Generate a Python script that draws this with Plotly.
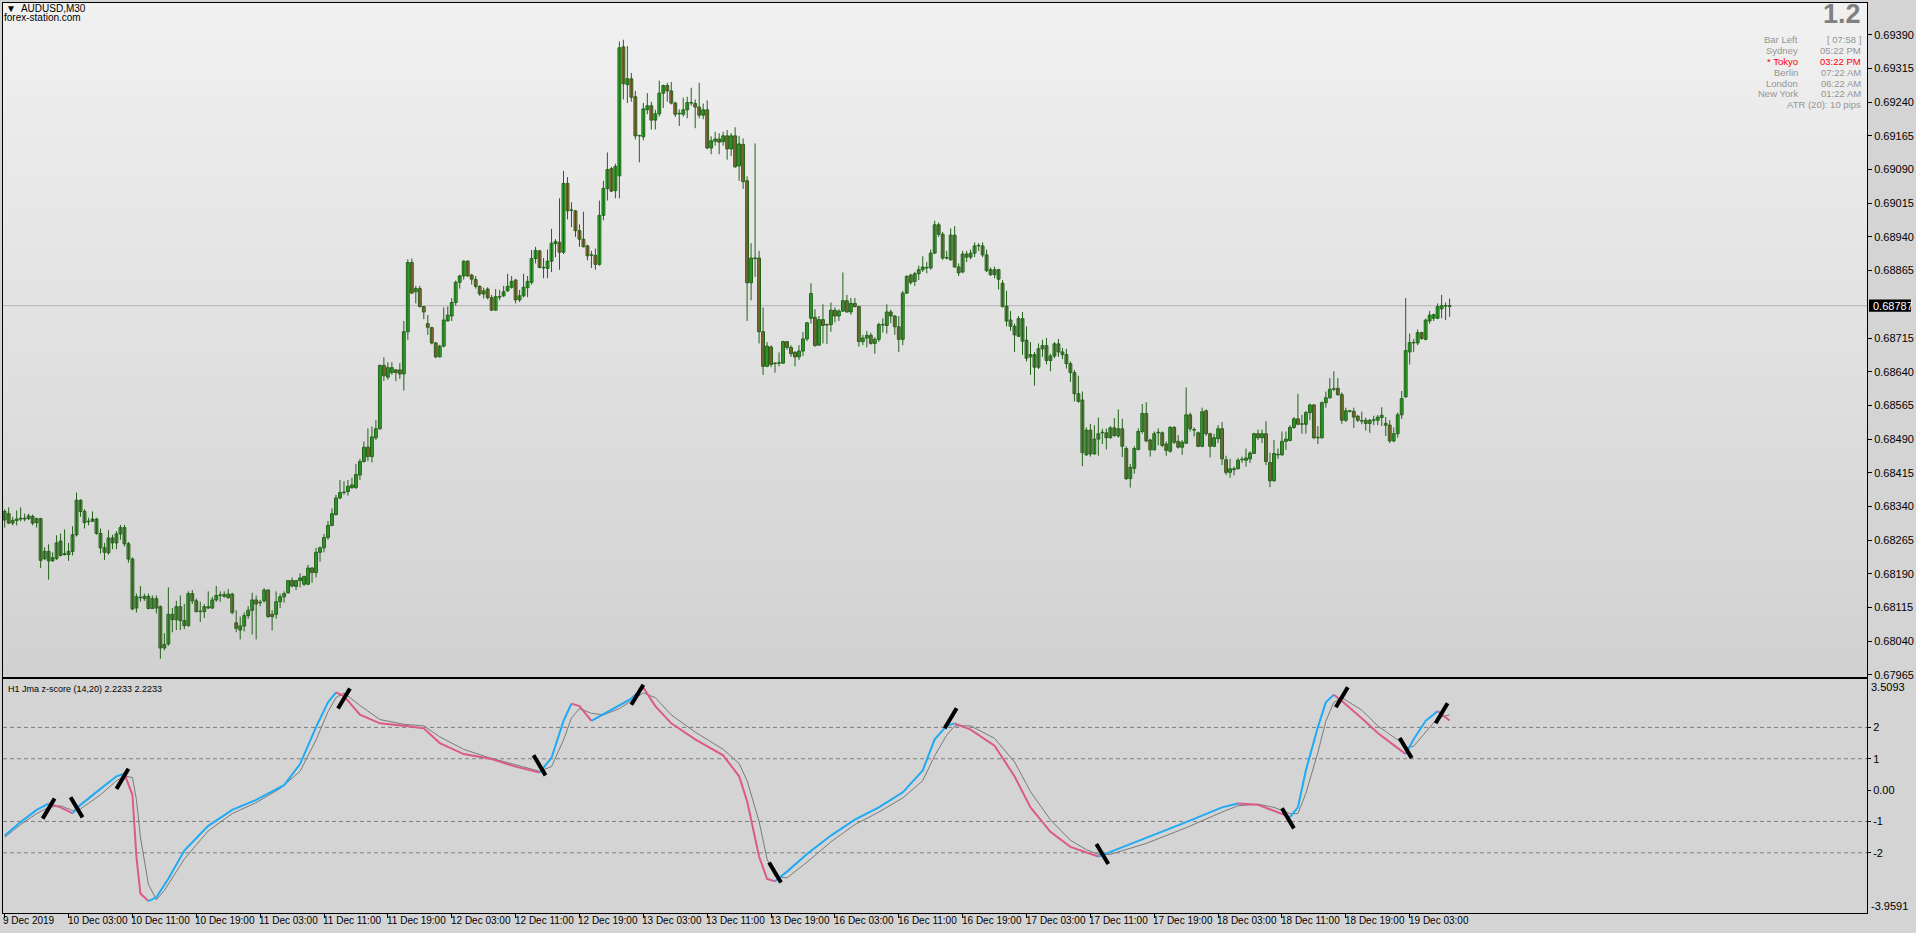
import plotly.graph_objects as go

# ---------------- data (AUDUSD M30) ----------------
opens = [
0.68310,0.68324,0.68303,0.68309,0.68312,0.68314,0.68313,0.68318,0.68304,0.68313,
0.68224,0.68240,0.68219,0.68224,0.68263,0.68233,0.68233,0.68240,0.68277,0.68354,
0.68329,0.68306,0.68307,0.68312,0.68280,0.68248,0.68237,0.68270,0.68259,0.68279,
0.68293,0.68257,0.68223,0.68114,0.68137,0.68135,0.68140,0.68113,0.68135,0.68117,
0.68025,0.68034,0.68100,0.68088,0.68117,0.68086,0.68075,0.68146,0.68130,0.68106,
0.68106,0.68114,0.68114,0.68132,0.68142,0.68140,0.68137,0.68145,0.68081,0.68065,
0.68074,0.68097,0.68109,0.68132,0.68126,0.68130,0.68154,0.68100,0.68100,0.68128,
0.68139,0.68148,0.68175,0.68162,0.68175,0.68167,0.68167,0.68203,0.68193,0.68238,
0.68248,0.68271,0.68298,0.68322,0.68359,0.68371,0.68373,0.68382,0.68382,0.68410,
0.68440,0.68472,0.68451,0.68493,0.68513,0.68654,0.68628,0.68638,0.68644,0.68644,
0.68635,0.68729,0.68883,0.68818,0.68825,0.68785,0.68747,0.68738,0.68704,0.68673,
0.68697,0.68753,0.68764,0.68794,0.68839,0.68853,0.68886,0.68855,0.68845,0.68830,
0.68813,0.68824,0.68805,0.68777,0.68806,0.68809,0.68820,0.68828,0.68844,0.68800,
0.68809,0.68827,0.68839,0.68892,0.68909,0.68871,0.68870,0.68886,0.68925,0.68928,
0.68906,0.69059,0.68999,0.68998,0.68954,0.68935,0.68920,0.68899,0.68899,0.68879,
0.68988,0.69048,0.69092,0.69043,0.69076,0.69363,0.69279,0.69292,0.69252,0.69165,
0.69163,0.69223,0.69232,0.69200,0.69214,0.69260,0.69277,0.69265,0.69238,0.69214,
0.69213,0.69223,0.69238,0.69237,0.69229,0.69211,0.69223,0.69138,0.69153,0.69158,
0.69152,0.69165,0.69136,0.69165,0.69098,0.69146,0.69065,0.68838,0.68893,0.68893,
0.68729,0.68652,0.68695,0.68659,0.68659,0.68659,0.68707,0.68694,0.68683,0.68673,
0.68686,0.68713,0.68759,0.68761,0.68699,0.68756,0.68745,0.68745,0.68777,0.68764,
0.68775,0.68798,0.68773,0.68792,0.68785,0.68707,0.68715,0.68721,0.68703,0.68712,
0.68744,0.68743,0.68773,0.68764,0.68740,0.68712,0.68815,0.68855,0.68841,0.68858,
0.68867,0.68871,0.68871,0.68904,0.68967,0.68946,0.68893,0.68889,0.68944,0.68873,
0.68862,0.68902,0.68895,0.68904,0.68920,0.68920,0.68900,0.68867,0.68867,0.68867,
0.68837,0.68786,0.68755,0.68741,0.68719,0.68758,0.68710,0.68673,0.68678,0.68650,
0.68691,0.68698,0.68665,0.68675,0.68702,0.68684,0.68678,0.68658,0.68638,0.68591,
0.68577,0.68455,0.68510,0.68457,0.68490,0.68504,0.68504,0.68493,0.68515,0.68497,
0.68513,0.68469,0.68402,0.68425,0.68467,0.68507,0.68547,0.68488,0.68466,0.68504,
0.68504,0.68479,0.68463,0.68516,0.68485,0.68472,0.68481,0.68544,0.68510,0.68504,
0.68474,0.68553,0.68502,0.68474,0.68491,0.68513,0.68444,0.68416,0.68422,0.68424,
0.68444,0.68443,0.68446,0.68458,0.68502,0.68493,0.68502,0.68438,0.68397,0.68455,
0.68455,0.68485,0.68487,0.68516,0.68535,0.68523,0.68523,0.68549,0.68566,0.68493,
0.68493,0.68571,0.68582,0.68601,0.68603,0.68589,0.68532,0.68552,0.68552,0.68541,
0.68530,0.68532,0.68525,0.68532,0.68532,0.68538,0.68525,0.68521,0.68486,0.68502,
0.68544,0.68584,0.68684,0.68704,0.68704,0.68727,0.68712,0.68753,0.68759,0.68759,
0.68780,0.68786,0.68785]

highs = [
0.68334,0.68338,0.68317,0.68331,0.68338,0.68324,0.68324,0.68322,0.68315,0.68315,
0.68249,0.68256,0.68238,0.68276,0.68280,0.68289,0.68259,0.68296,0.68371,0.68356,
0.68334,0.68315,0.68329,0.68315,0.68291,0.68259,0.68287,0.68277,0.68285,0.68299,
0.68299,0.68261,0.68227,0.68146,0.68163,0.68146,0.68146,0.68142,0.68142,0.68120,
0.68058,0.68160,0.68114,0.68130,0.68142,0.68123,0.68151,0.68154,0.68135,0.68128,
0.68123,0.68151,0.68139,0.68163,0.68151,0.68151,0.68156,0.68148,0.68109,0.68095,
0.68104,0.68118,0.68148,0.68142,0.68132,0.68158,0.68156,0.68109,0.68151,0.68146,
0.68151,0.68176,0.68182,0.68176,0.68191,0.68186,0.68210,0.68205,0.68248,0.68251,
0.68279,0.68308,0.68336,0.68366,0.68399,0.68396,0.68399,0.68404,0.68435,0.68446,
0.68485,0.68514,0.68518,0.68532,0.68656,0.68672,0.68661,0.68661,0.68646,0.68659,
0.68753,0.68890,0.68892,0.68831,0.68831,0.68786,0.68766,0.68740,0.68706,0.68700,
0.68783,0.68785,0.68804,0.68843,0.68856,0.68888,0.68888,0.68858,0.68853,0.68832,
0.68827,0.68828,0.68811,0.68824,0.68822,0.68831,0.68858,0.68853,0.68846,0.68822,
0.68858,0.68853,0.68911,0.68918,0.68911,0.68893,0.68912,0.68958,0.68935,0.69026,
0.69087,0.69073,0.69017,0.69000,0.68968,0.68996,0.68923,0.68909,0.68914,0.69021,
0.69065,0.69128,0.69096,0.69103,0.69375,0.69379,0.69365,0.69305,0.69265,0.69167,
0.69238,0.69260,0.69241,0.69223,0.69288,0.69279,0.69283,0.69285,0.69241,0.69224,
0.69250,0.69252,0.69272,0.69246,0.69283,0.69237,0.69244,0.69164,0.69174,0.69171,
0.69174,0.69178,0.69171,0.69184,0.69165,0.69159,0.69075,0.68926,0.69148,0.68909,
0.68783,0.68706,0.68699,0.68661,0.68683,0.68709,0.68708,0.68699,0.68686,0.68699,
0.68728,0.68750,0.68837,0.68779,0.68764,0.68790,0.68747,0.68794,0.68783,0.68779,
0.68861,0.68811,0.68804,0.68804,0.68786,0.68722,0.68731,0.68727,0.68717,0.68749,
0.68759,0.68790,0.68778,0.68766,0.68764,0.68820,0.68855,0.68858,0.68862,0.68876,
0.68897,0.68884,0.68912,0.68976,0.68972,0.68951,0.68909,0.68959,0.68964,0.68881,
0.68909,0.68909,0.68912,0.68928,0.68926,0.68928,0.68912,0.68872,0.68874,0.68869,
0.68844,0.68820,0.68775,0.68747,0.68764,0.68773,0.68741,0.68706,0.68684,0.68703,
0.68711,0.68715,0.68680,0.68706,0.68713,0.68693,0.68691,0.68663,0.68644,0.68631,
0.68596,0.68516,0.68524,0.68521,0.68538,0.68513,0.68513,0.68519,0.68537,0.68556,
0.68535,0.68474,0.68435,0.68474,0.68514,0.68568,0.68572,0.68491,0.68507,0.68514,
0.68507,0.68485,0.68519,0.68519,0.68499,0.68488,0.68605,0.68549,0.68516,0.68507,
0.68560,0.68556,0.68504,0.68502,0.68521,0.68528,0.68453,0.68446,0.68429,0.68448,
0.68451,0.68469,0.68463,0.68504,0.68511,0.68511,0.68530,0.68460,0.68488,0.68469,
0.68507,0.68507,0.68521,0.68539,0.68591,0.68544,0.68553,0.68569,0.68568,0.68519,
0.68574,0.68596,0.68626,0.68641,0.68626,0.68594,0.68560,0.68554,0.68560,0.68544,
0.68551,0.68538,0.68535,0.68542,0.68544,0.68561,0.68539,0.68532,0.68516,0.68549,
0.68597,0.68804,0.68725,0.68713,0.68734,0.68729,0.68758,0.68775,0.68769,0.68792,
0.68811,0.68794,0.68803]

lows = [
0.68293,0.68301,0.68298,0.68298,0.68307,0.68307,0.68310,0.68298,0.68293,0.68203,
0.68221,0.68177,0.68217,0.68221,0.68229,0.68231,0.68219,0.68231,0.68273,0.68317,
0.68291,0.68298,0.68306,0.68277,0.68235,0.68221,0.68233,0.68245,0.68245,0.68266,
0.68251,0.68215,0.68109,0.68104,0.68128,0.68130,0.68111,0.68112,0.68102,0.68001,
0.68020,0.68030,0.68060,0.68065,0.68065,0.68067,0.68072,0.68123,0.68104,0.68083,
0.68092,0.68112,0.68112,0.68128,0.68128,0.68137,0.68135,0.68100,0.68060,0.68044,
0.68062,0.68090,0.68055,0.68044,0.68118,0.68126,0.68092,0.68064,0.68090,0.68114,
0.68126,0.68146,0.68160,0.68154,0.68160,0.68163,0.68165,0.68170,0.68182,0.68217,
0.68238,0.68266,0.68296,0.68320,0.68356,0.68366,0.68364,0.68379,0.68379,0.68399,
0.68438,0.68441,0.68438,0.68488,0.68511,0.68619,0.68622,0.68633,0.68619,0.68624,
0.68598,0.68711,0.68813,0.68792,0.68783,0.68757,0.68722,0.68701,0.68670,0.68672,
0.68694,0.68752,0.68753,0.68787,0.68825,0.68845,0.68852,0.68834,0.68825,0.68809,
0.68803,0.68801,0.68775,0.68776,0.68799,0.68806,0.68818,0.68825,0.68792,0.68795,
0.68805,0.68806,0.68834,0.68881,0.68870,0.68848,0.68848,0.68862,0.68895,0.68867,
0.68902,0.68979,0.68962,0.68940,0.68918,0.68917,0.68888,0.68871,0.68867,0.68876,
0.68977,0.69021,0.69040,0.69026,0.69026,0.69246,0.69238,0.69241,0.69157,0.69106,
0.69155,0.69213,0.69179,0.69179,0.69208,0.69227,0.69241,0.69235,0.69207,0.69187,
0.69208,0.69204,0.69232,0.69182,0.69204,0.69202,0.69135,0.69124,0.69143,0.69124,
0.69143,0.69112,0.69120,0.69094,0.69065,0.69047,0.68753,0.68799,0.68851,0.68703,
0.68633,0.68650,0.68650,0.68638,0.68652,0.68658,0.68689,0.68673,0.68652,0.68666,
0.68675,0.68708,0.68747,0.68696,0.68699,0.68703,0.68702,0.68729,0.68750,0.68753,
0.68773,0.68772,0.68767,0.68783,0.68696,0.68699,0.68694,0.68700,0.68680,0.68706,
0.68727,0.68725,0.68748,0.68722,0.68684,0.68699,0.68813,0.68834,0.68831,0.68844,
0.68862,0.68859,0.68867,0.68902,0.68940,0.68889,0.68890,0.68888,0.68872,0.68853,
0.68859,0.68884,0.68890,0.68895,0.68909,0.68895,0.68862,0.68853,0.68848,0.68823,
0.68783,0.68741,0.68731,0.68684,0.68717,0.68678,0.68663,0.68633,0.68609,0.68646,
0.68673,0.68656,0.68641,0.68670,0.68673,0.68668,0.68647,0.68617,0.68574,0.68571,
0.68430,0.68453,0.68451,0.68455,0.68453,0.68479,0.68467,0.68491,0.68495,0.68493,
0.68450,0.68399,0.68382,0.68413,0.68465,0.68502,0.68483,0.68451,0.68465,0.68476,
0.68472,0.68453,0.68460,0.68479,0.68469,0.68455,0.68479,0.68507,0.68496,0.68472,
0.68472,0.68497,0.68449,0.68472,0.68481,0.68432,0.68410,0.68404,0.68409,0.68423,
0.68437,0.68429,0.68437,0.68457,0.68488,0.68481,0.68432,0.68383,0.68396,0.68446,
0.68453,0.68466,0.68485,0.68513,0.68521,0.68502,0.68502,0.68532,0.68490,0.68479,
0.68491,0.68560,0.68580,0.68597,0.68586,0.68524,0.68528,0.68549,0.68515,0.68528,
0.68523,0.68509,0.68504,0.68521,0.68521,0.68519,0.68497,0.68481,0.68483,0.68493,
0.68535,0.68582,0.68656,0.68684,0.68699,0.68711,0.68710,0.68747,0.68753,0.68757,
0.68759,0.68755,0.68762]

closes = [
0.68329,0.68303,0.68309,0.68312,0.68314,0.68312,0.68319,0.68303,0.68313,0.68220,
0.68240,0.68219,0.68226,0.68259,0.68231,0.68235,0.68240,0.68277,0.68354,0.68329,
0.68304,0.68306,0.68312,0.68280,0.68248,0.68238,0.68270,0.68259,0.68279,0.68293,
0.68257,0.68223,0.68112,0.68139,0.68138,0.68140,0.68113,0.68135,0.68114,0.68025,
0.68033,0.68100,0.68088,0.68117,0.68086,0.68075,0.68146,0.68130,0.68106,0.68107,
0.68117,0.68117,0.68132,0.68142,0.68143,0.68144,0.68145,0.68104,0.68069,0.68074,
0.68097,0.68109,0.68132,0.68123,0.68127,0.68154,0.68095,0.68095,0.68128,0.68139,
0.68146,0.68175,0.68163,0.68175,0.68181,0.68184,0.68203,0.68193,0.68238,0.68248,
0.68271,0.68298,0.68324,0.68359,0.68371,0.68372,0.68385,0.68388,0.68411,0.68440,
0.68472,0.68451,0.68495,0.68513,0.68654,0.68631,0.68649,0.68649,0.68638,0.68635,
0.68729,0.68883,0.68815,0.68825,0.68785,0.68773,0.68739,0.68704,0.68673,0.68697,
0.68755,0.68766,0.68794,0.68839,0.68853,0.68886,0.68853,0.68846,0.68830,0.68813,
0.68820,0.68805,0.68777,0.68807,0.68807,0.68818,0.68830,0.68841,0.68800,0.68809,
0.68828,0.68841,0.68892,0.68910,0.68872,0.68872,0.68886,0.68926,0.68930,0.68906,
0.69059,0.68998,0.69000,0.68954,0.68935,0.68918,0.68898,0.68900,0.68879,0.68988,
0.69048,0.69090,0.69042,0.69097,0.69361,0.69281,0.69292,0.69251,0.69165,0.69166,
0.69225,0.69232,0.69200,0.69214,0.69260,0.69277,0.69265,0.69238,0.69213,0.69215,
0.69223,0.69239,0.69239,0.69229,0.69211,0.69223,0.69138,0.69154,0.69158,0.69151,
0.69165,0.69136,0.69165,0.69096,0.69147,0.69063,0.68838,0.68893,0.68892,0.68729,
0.68652,0.68697,0.68656,0.68658,0.68660,0.68707,0.68694,0.68680,0.68673,0.68686,
0.68713,0.68749,0.68814,0.68698,0.68756,0.68743,0.68744,0.68777,0.68764,0.68775,
0.68798,0.68773,0.68792,0.68785,0.68707,0.68715,0.68721,0.68703,0.68712,0.68745,
0.68745,0.68773,0.68764,0.68740,0.68712,0.68815,0.68852,0.68839,0.68858,0.68867,
0.68873,0.68872,0.68904,0.68967,0.68946,0.68893,0.68894,0.68944,0.68873,0.68860,
0.68902,0.68895,0.68904,0.68920,0.68921,0.68900,0.68865,0.68856,0.68856,0.68846,
0.68785,0.68753,0.68741,0.68722,0.68758,0.68708,0.68670,0.68678,0.68650,0.68691,
0.68698,0.68665,0.68675,0.68702,0.68684,0.68678,0.68658,0.68638,0.68591,0.68574,
0.68460,0.68510,0.68457,0.68490,0.68502,0.68505,0.68493,0.68515,0.68498,0.68513,
0.68474,0.68402,0.68427,0.68469,0.68507,0.68547,0.68486,0.68466,0.68502,0.68505,
0.68476,0.68465,0.68516,0.68483,0.68472,0.68483,0.68544,0.68513,0.68511,0.68474,
0.68551,0.68502,0.68474,0.68493,0.68513,0.68446,0.68416,0.68424,0.68424,0.68443,
0.68445,0.68448,0.68459,0.68502,0.68493,0.68502,0.68440,0.68397,0.68458,0.68456,
0.68485,0.68490,0.68516,0.68535,0.68523,0.68524,0.68549,0.68566,0.68493,0.68494,
0.68571,0.68582,0.68601,0.68602,0.68589,0.68532,0.68553,0.68553,0.68539,0.68532,
0.68531,0.68525,0.68532,0.68533,0.68539,0.68543,0.68521,0.68486,0.68502,0.68544,
0.68580,0.68687,0.68705,0.68705,0.68727,0.68714,0.68755,0.68766,0.68767,0.68785,
0.68787,0.68786,0.68787]

# time-axis labels (bar index of each label)
tick_bars = [0, 16, 32, 48, 64, 80, 96, 112, 128, 144, 160, 176, 192, 208,
             224, 240, 256, 272, 288, 304, 320, 336, 352]
tick_labels = ["9 Dec 2019", "10 Dec 03:00", "10 Dec 11:00", "10 Dec 19:00",
               "11 Dec 03:00", "11 Dec 11:00", "11 Dec 19:00", "12 Dec 03:00",
               "12 Dec 11:00", "12 Dec 19:00", "13 Dec 03:00", "13 Dec 11:00",
               "13 Dec 19:00", "16 Dec 03:00", "16 Dec 11:00", "16 Dec 19:00",
               "17 Dec 03:00", "17 Dec 11:00", "17 Dec 19:00", "18 Dec 03:00",
               "18 Dec 11:00", "18 Dec 19:00", "19 Dec 03:00"]

price_ticks = [0.67965, 0.68040, 0.68115, 0.68190, 0.68265, 0.68340, 0.68415,
               0.68490, 0.68565, 0.68640, 0.68715, 0.68865, 0.68940, 0.69015,
               0.69090, 0.69165, 0.69240, 0.69315, 0.69390]
last_price = 0.68787

# Jma z-score indicator (main line and lagging signal line)
z_bar = [0,4,8,11,14,17,19,24,28,30, 32,33,34,36,38,41,45,51,57,63,
         70,74,78,81,83,85,89,94,100,105, 109,115,122,128,134,137,140,142,144,147,
         151,154,157,160,163,167,173,180,184,186, 189,191,193,196,201,207,213,219,225,230,
         233,236,238,242,248,253,257,262,267,271, 274,277,286,296,305,309,314,318,322,324,
         326,329,331,333,335,340,344,349,351,353, 356,359,362]
z_val = [-1.45,-1.02,-0.63,-0.43,-0.55,-0.74,-0.47,0.04,0.44,0.52,
         -0.15,-2.12,-3.3,-3.54,-3.42,-2.83,-1.93,-1.14,-0.63,-0.31,
         0.16,0.83,2.01,2.8,3.12,3.0,2.41,2.13,2.05,1.97,
         1.5,1.15,0.99,0.75,0.56,1.03,2.21,2.76,2.68,2.21,
         2.49,2.72,2.92,3.27,2.68,2.13,1.62,1.11,0.44,-0.35,
         -2.12,-2.83,-2.91,-2.6,-2.04,-1.45,-0.94,-0.55,-0.07,0.63,
         1.62,2.05,2.13,1.93,1.42,0.44,-0.55,-1.33,-1.81,-2.0,
         -2.12,-1.97,-1.53,-1.02,-0.55,-0.43,-0.47,-0.66,-0.86,-0.55,
         0.63,2.01,2.8,3.04,2.84,2.29,1.82,1.34,1.15,1.62,
         2.21,2.52,2.22]
sig_bar = [0,4,8,11,14,17,19,24,28,30, 32,33,34,36,38,40,45,51,57,63,
           69,74,78,81,83,85,89,94,100,105, 109,115,121,127,134,137,140,142,144,147,
           150,154,157,160,163,167,173,180,184,186, 189,191,193,196,201,207,213,219,225,230,
           233,236,238,242,248,253,257,262,267,271, 274,277,286,296,305,309,314,318,322,324,
           326,329,331,333,335,340,344,349,351,353, 356,359,362]
sig_val = [-1.5,-1.1,-0.75,-0.55,-0.5,-0.65,-0.6,-0.15,0.3,0.45,
           0.4,-0.3,-1.5,-3.0,-3.5,-3.2,-2.2,-1.3,-0.75,-0.4,
           0.05,0.6,1.6,2.5,2.95,3.1,2.7,2.25,2.1,2.05,
           1.7,1.3,1.05,0.85,0.6,0.75,1.6,2.3,2.6,2.45,
           2.4,2.6,2.85,3.1,2.95,2.4,1.85,1.3,0.85,0.3,
           -1.0,-2.2,-2.75,-2.8,-2.3,-1.65,-1.1,-0.7,-0.25,0.3,
           1.1,1.75,2.05,2.05,1.65,0.9,-0.05,-0.95,-1.6,-1.9,
           -2.05,-2.05,-1.7,-1.2,-0.7,-0.5,-0.45,-0.55,-0.75,-0.75,
           -0.1,1.2,2.2,2.8,2.95,2.55,2.05,1.6,1.35,1.4,
           1.85,2.3,2.4]
# turning-point marks: bar, value, direction (+1 up-slash, -1 down-slash)
mk_bar = [11, 18, 29.5, 85, 134, 158.5, 193, 237, 275, 321.5, 335, 351, 360]
mk_val = [-0.59, -0.55, 0.36, 2.92, 0.79, 3.04, -2.63, 2.29, -2.04, -0.9, 2.96, 1.34, 2.45]
mk_dir = [1, -1, 1, 1, -1, 1, -1, 1, -1, -1, 1, -1, 1]
levels = [2, 1, -1, -2]
ind_max, ind_min = 3.5093, -3.9591

# ---------------- layout geometry ----------------
W, H = 1916, 933
ML, MR, MT, MB = 2, 46, 2, 20
PH = H - MT - MB
def py(pix):          # pixel row -> paper fraction
    return (H - MB - pix) / PH
def px(pix):
    return (pix - ML) / (W - ML - MR)

XR = [-0.425, 466.575]
main_dom = [py(677), 1.0]
ind_dom = [0.0, py(679)]
PR = [0.679599, 0.694607]
IR = [-3.92, 3.536]

BLUE = "#1EAAF5"
PINK = "#DC5A88"
OUTLINE = "#24621A"
NARROW = "Liberation Sans Narrow, Arial Narrow, Liberation Sans, Arial, sans-serif"
SANS = "Liberation Sans, Arial, sans-serif"

fig = go.Figure()

# candle wicks
wx, wy = [], []
for i, (h, l) in enumerate(zip(highs, lows)):
    wx += [i, i, None]
    wy += [l, h, None]
fig.add_trace(go.Scatter(x=wx, y=wy, mode="lines", line=dict(color=OUTLINE, width=1),
                         hoverinfo="skip", showlegend=False, xaxis="x", yaxis="y"))
# candle bodies
MINH = 0.000012
for up, fill in ((True, "#3CC83C"), (False, "#C8694B")):
    idx = [i for i in range(len(closes)) if (closes[i] >= opens[i]) == up]
    fig.add_trace(go.Bar(
        x=idx,
        base=[min(opens[i], closes[i]) for i in idx],
        y=[max(abs(closes[i] - opens[i]), MINH) for i in idx],
        width=0.72, marker=dict(color=fill, line=dict(color=OUTLINE, width=1)),
        hoverinfo="skip", showlegend=False, xaxis="x", yaxis="y"))

# signal line (gray)
fig.add_trace(go.Scatter(x=sig_bar, y=sig_val, mode="lines", xaxis="x2", yaxis="y2",
                         line=dict(color="#7A7A7A", width=1), hoverinfo="skip", showlegend=False))

# main line coloured by direction
runs = []
for i in range(len(z_bar) - 1):
    col = BLUE if z_val[i + 1] >= z_val[i] else PINK
    if runs and runs[-1][0] == col:
        runs[-1][1].append(z_bar[i + 1]); runs[-1][2].append(z_val[i + 1])
    else:
        runs.append([col, [z_bar[i], z_bar[i + 1]], [z_val[i], z_val[i + 1]]])
for col, xs, ys in runs:
    fig.add_trace(go.Scatter(x=xs, y=ys, mode="lines", xaxis="x2", yaxis="y2",
                             line=dict(color=col, width=2), hoverinfo="skip", showlegend=False))

# turning-point marks
mx, my = [], []
for b, v, d in zip(mk_bar, mk_val, mk_dir):
    mx += [b - 1.5, b + 1.5, None]
    my += [v - 0.32 * d, v + 0.32 * d, None]
fig.add_trace(go.Scatter(x=mx, y=my, mode="lines", xaxis="x2", yaxis="y2",
                         line=dict(color="black", width=4), hoverinfo="skip", showlegend=False))

shapes = []
N = 60
for k in range(N):
    t = (k + 0.5) / N
    c = int(round(241 - (241 - 209) * t))
    shapes.append(dict(type="rect", xref="x domain", yref="y domain", x0=0, x1=1,
                       y0=1 - (k + 1) / N, y1=1 - k / N + 0.001,
                       fillcolor=f"rgb({c},{c},{c})", line=dict(width=0), layer="below"))
shapes.append(dict(type="line", xref="x domain", yref="y", x0=0, x1=1,
                   y0=last_price, y1=last_price, line=dict(color="#B4B4B4", width=1), layer="below"))
for lv in levels:
    shapes.append(dict(type="line", xref="x2 domain", yref="y2", x0=0, x1=1, y0=lv, y1=lv,
                       line=dict(color="#7F7F7F", width=1, dash="4px,3px"), layer="below"))
# current price box
shapes.append(dict(type="rect", xref="paper", yref="y", x0=px(1872), x1=px(1914),
                   y0=last_price - 0.000135, y1=last_price + 0.000135,
                   fillcolor="black", line=dict(width=0)))

ann = []
for b, lab in zip(tick_bars, tick_labels):
    ann.append(dict(x=b, y=py(921), xref="x2", yref="paper", text=lab, showarrow=False,
                    xanchor="left", yanchor="middle", xshift=-3 if b else -4,
                    font=dict(family=NARROW, size=10, color="black")))
ann.append(dict(x=px(1874), y=last_price, xref="paper", yref="y", text=f"{last_price:.5f}",
                showarrow=False, xanchor="left", yanchor="middle",
                font=dict(family=NARROW, size=11, color="white")))
ann.append(dict(x=px(1872), y=py(687), xref="paper", yref="paper", text=f"{ind_max:.4f}",
                showarrow=False, xanchor="left", yanchor="middle",
                font=dict(family=NARROW, size=11, color="black")))
ann.append(dict(x=px(1872), y=py(906), xref="paper", yref="paper", text=f"{ind_min:.4f}",
                showarrow=False, xanchor="left", yanchor="middle",
                font=dict(family=NARROW, size=11, color="black")))
# header texts
ann.append(dict(x=px(3), y=py(8), xref="paper", yref="paper", text="\u25BC  AUDUSD,M30",
                showarrow=False, xanchor="left", yanchor="middle",
                font=dict(family=SANS, size=10, color="black")))
ann.append(dict(x=px(1), y=py(17), xref="paper", yref="paper", text="forex-station.com",
                showarrow=False, xanchor="left", yanchor="middle",
                font=dict(family=SANS, size=10, color="black")))
ann.append(dict(x=px(5), y=py(689), xref="paper", yref="paper",
                text="H1 Jma z-score (14,20) 2.2233 2.2233",
                showarrow=False, xanchor="left", yanchor="middle",
                font=dict(family=SANS, size=9, color="black")))
# info panel (top right)
ann.append(dict(x=px(1866), y=py(13), xref="paper", yref="paper", text="<b>1.2</b>",
                showarrow=False, xanchor="right", yanchor="middle",
                font=dict(family=SANS, size=27, color="#808080")))
info_rows = [("Bar Left", "[ 07:58 ]", "#959595"),
             ("Sydney", "05:22 PM", "#959595"),
             ("* Tokyo", "03:22 PM", "#FF0000"),
             ("Berlin", "07:22 AM", "#959595"),
             ("London", "06:22 AM", "#959595"),
             ("New York", "01:22 AM", "#959595")]
for i, (a, b, col) in enumerate(info_rows):
    yy = py(39 + 10.8 * i)
    ann.append(dict(x=px(1803), y=yy, xref="paper", yref="paper", text=a, showarrow=False,
                    xanchor="right", yanchor="middle", font=dict(family=SANS, size=9.5, color=col)))
    ann.append(dict(x=px(1866), y=yy, xref="paper", yref="paper", text=b, showarrow=False,
                    xanchor="right", yanchor="middle", font=dict(family=SANS, size=9.5, color=col)))
ann.append(dict(x=px(1866), y=py(104), xref="paper", yref="paper", text="ATR (20): 10 pips",
                showarrow=False, xanchor="right", yanchor="middle",
                font=dict(family=SANS, size=9.5, color="#959595")))

axis_common = dict(showline=True, mirror=True, linecolor="black", linewidth=1,
                   showgrid=False, zeroline=False)
fig.update_layout(
    width=W, height=H, margin=dict(l=ML, r=MR, t=MT, b=MB, pad=0),
    paper_bgcolor="#D4D4D4", plot_bgcolor="#D4D4D4",
    showlegend=False, dragmode=False, hovermode=False, barmode="overlay",
    xaxis=dict(domain=[0, 1], range=XR, anchor="y", showticklabels=False, ticks="",
               **axis_common),
    xaxis2=dict(domain=[0, 1], range=XR, anchor="y2", matches="x", showticklabels=False,
                ticks="outside", tickvals=tick_bars, ticklen=4, tickcolor="black", **axis_common),
    yaxis=dict(domain=main_dom, range=PR, anchor="x", side="right",
               tickvals=price_ticks, ticktext=[f"{p:.5f}" for p in price_ticks],
               ticks="outside", ticklen=4, tickcolor="black",
               tickfont=dict(family=NARROW, size=11, color="black"), **axis_common),
    yaxis2=dict(domain=ind_dom, range=IR, anchor="x2", side="right",
                tickvals=[2, 1, 0, -1, -2], ticktext=["2", "1", "0.00", "-1", "-2"],
                ticks="outside", ticklen=3, tickcolor="black",
                tickfont=dict(family=NARROW, size=11, color="black"), **axis_common),
    shapes=shapes, annotations=ann,
)

fig.write_html("out.html", config={"displayModeBar": False},
               post_script="document.body.style.margin='0';document.body.style.overflow='hidden';")
